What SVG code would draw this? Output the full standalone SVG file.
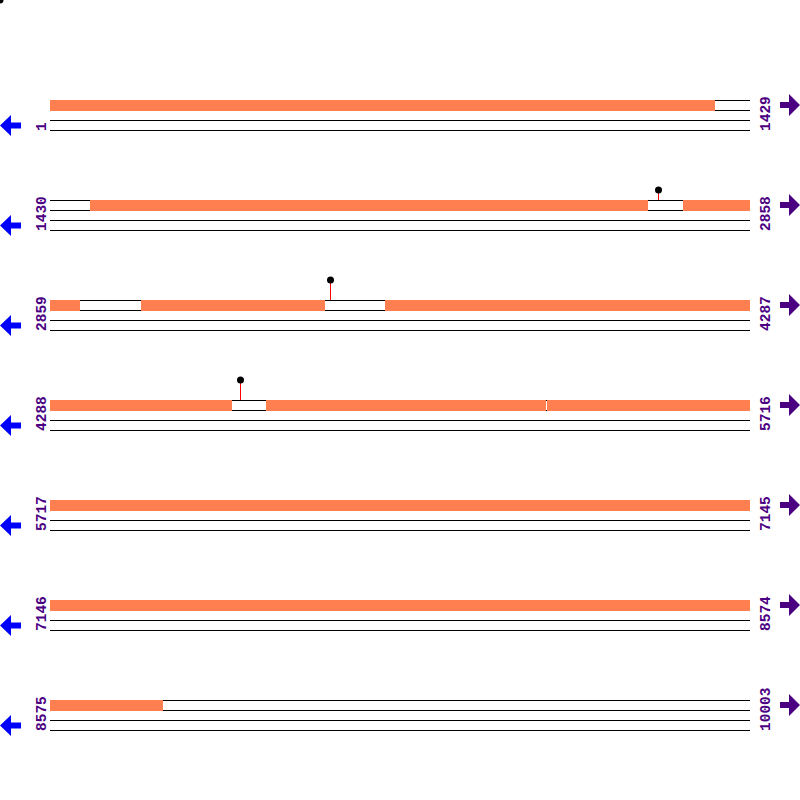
<svg xmlns="http://www.w3.org/2000/svg" width="800" height="800" viewBox="0 0 800 800">
<defs>
<style>
.ln{stroke:#000;stroke-width:1;fill:none}
.or{fill:#FF7F50}
.lb{font-family:"Liberation Mono","DejaVu Sans Mono",monospace;font-size:14.5px;font-weight:bold;fill:#4B0082}
.la{fill:#0000FF}
.ra{fill:#4B0082}
.st{stroke:#FF0000;stroke-width:1}
.dot{fill:#000}
</style>
<g id="track">
<path class="ln" d="M50 0.5H750M50 10.5H750M50 20.5H750M50 30.5H750"/>
</g>
<polygon id="larr" class="la" points="0,25.5 11,15 11,22.5 21,22.5 21,28.5 11,28.5 11,36"/>
<polygon id="rarr" class="ra" points="800,5 789,-6 789,2 780,2 780,8 789,8 789,16"/>
</defs>
<rect width="800" height="800" fill="#fff"/>
<circle cx="0" cy="0" r="3.5" class="dot"/>

<g id="row1">
<use href="#track" y="100"/>
<rect class="or" x="50" y="100" width="665" height="11"/>
<use href="#larr" y="100"/><use href="#rarr" y="100"/>
<text class="lb" transform="translate(46,131) rotate(-90)">1</text>
<text class="lb" transform="translate(770,131) rotate(-90)">1429</text>
</g>

<g id="row2">
<use href="#track" y="200"/>
<rect class="or" x="90" y="200" width="558" height="11"/>
<rect class="or" x="683" y="200" width="67" height="11"/>
<use href="#larr" y="200"/><use href="#rarr" y="200"/>
<text class="lb" transform="translate(46,231) rotate(-90)">1430</text>
<text class="lb" transform="translate(770,231) rotate(-90)">2858</text>
</g>

<g id="row3">
<use href="#track" y="300"/>
<rect class="or" x="50" y="300" width="30" height="11"/>
<rect class="or" x="141" y="300" width="184" height="11"/>
<rect class="or" x="385" y="300" width="365" height="11"/>
<use href="#larr" y="300"/><use href="#rarr" y="300"/>
<text class="lb" transform="translate(46,331) rotate(-90)">2859</text>
<text class="lb" transform="translate(770,331) rotate(-90)">4287</text>
</g>

<g id="row4">
<use href="#track" y="400"/>
<rect class="or" x="50" y="400" width="182" height="11"/>
<rect class="or" x="266" y="400" width="280" height="11"/>
<rect class="or" x="547" y="400" width="203" height="11"/>
<use href="#larr" y="400"/><use href="#rarr" y="400"/>
<text class="lb" transform="translate(46,431) rotate(-90)">4288</text>
<text class="lb" transform="translate(770,431) rotate(-90)">5716</text>
</g>

<g id="row5">
<use href="#track" y="500"/>
<rect class="or" x="50" y="500" width="700" height="11"/>
<use href="#larr" y="500"/><use href="#rarr" y="500"/>
<text class="lb" transform="translate(46,531) rotate(-90)">5717</text>
<text class="lb" transform="translate(770,531) rotate(-90)">7145</text>
</g>

<g id="row6">
<use href="#track" y="600"/>
<rect class="or" x="50" y="600" width="700" height="11"/>
<use href="#larr" y="600"/><use href="#rarr" y="600"/>
<text class="lb" transform="translate(46,631) rotate(-90)">7146</text>
<text class="lb" transform="translate(770,631) rotate(-90)">8574</text>
</g>

<g id="row7">
<use href="#track" y="700"/>
<rect class="or" x="50" y="700" width="113" height="11"/>
<use href="#larr" y="700"/><use href="#rarr" y="700"/>
<text class="lb" transform="translate(46,731) rotate(-90)">8575</text>
<text class="lb" transform="translate(770,731) rotate(-90)">10003</text>
</g>

<g id="connectors">
<line class="st" x1="658.5" y1="190" x2="658.5" y2="200"/>
<circle class="dot" cx="658.5" cy="190" r="3.5"/>
<line class="st" x1="330.5" y1="280" x2="330.5" y2="300"/>
<circle class="dot" cx="330.5" cy="280" r="3.5"/>
<line class="st" x1="240.5" y1="380" x2="240.5" y2="400"/>
<circle class="dot" cx="240.5" cy="380" r="3.5"/>
</g>
</svg>
